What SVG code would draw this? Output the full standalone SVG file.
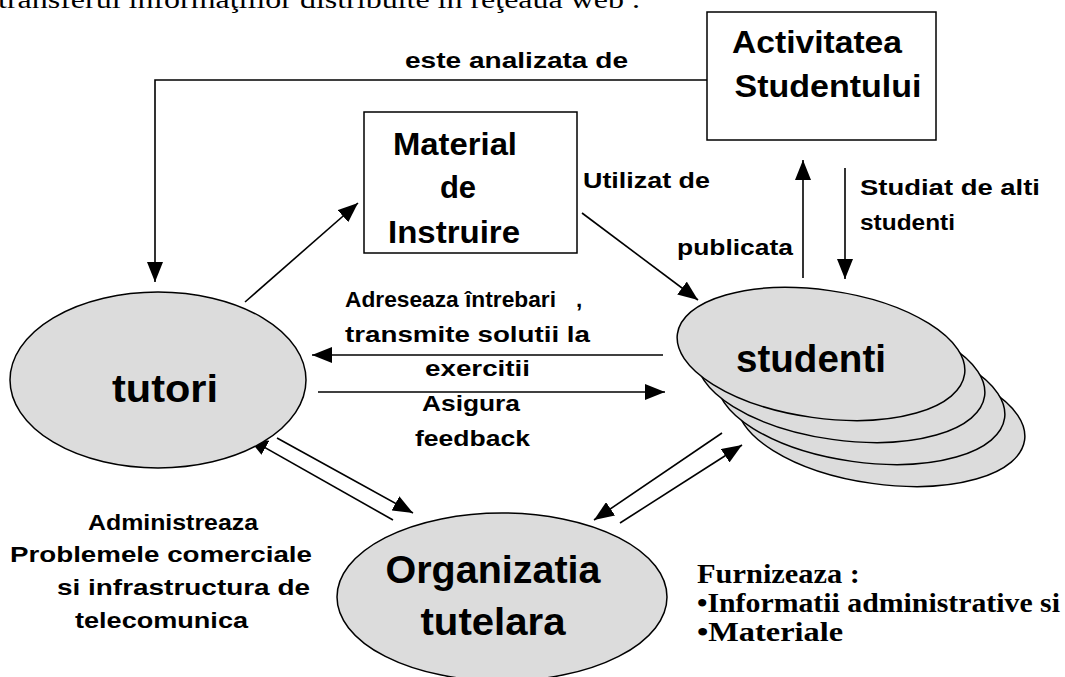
<svg xmlns="http://www.w3.org/2000/svg" width="1065" height="677" viewBox="0 0 1065 677">
<style>
.lbl{font-family:"Liberation Sans",Arial,sans-serif;font-weight:bold;font-size:22.5px;fill:#000}
.big{font-family:"Liberation Sans",Arial,sans-serif;font-weight:bold;font-size:31px;fill:#000;text-anchor:middle}
.node{font-family:"Liberation Sans",Arial,sans-serif;font-weight:bold;font-size:38px;fill:#000;text-anchor:middle}
.tm{font-family:"Liberation Serif","Times New Roman",serif;font-weight:bold;font-size:27px;fill:#000}
.box{fill:#fff;stroke:#000;stroke-width:1.5}
.ell{fill:#dcdcdc;stroke:#000;stroke-width:1.5}
.ln{fill:none;stroke:#000;stroke-width:1.6}
</style>
<defs>
<marker id="ahb" viewBox="0 0 20 16" refX="20" refY="8" markerWidth="20" markerHeight="16" markerUnits="userSpaceOnUse" orient="auto">
<path d="M0,0 L20,8 L0,16 z" fill="#000"/>
</marker>
</defs>
<rect width="1065" height="677" fill="#fff"/>
<text x="-2" y="8" font-family="'Liberation Serif','Times New Roman',serif" font-size="25" textLength="642" lengthAdjust="spacingAndGlyphs">transferul  informaţiilor distribuite în reţeaua web .</text>

<g id="connectors">
<polyline class="ln" points="707,80 155,80 155,282" marker-end="url(#ahb)"/>
<line class="ln" x1="245" y1="302" x2="358" y2="203" marker-end="url(#ahb)"/>
<line class="ln" x1="582" y1="213" x2="698" y2="300" marker-end="url(#ahb)"/>
<line class="ln" x1="803" y1="278" x2="803" y2="160" marker-end="url(#ahb)"/>
<line class="ln" x1="845" y1="168" x2="845" y2="279" marker-end="url(#ahb)"/>
<line class="ln" x1="663" y1="355" x2="312" y2="355" marker-end="url(#ahb)"/>
<line class="ln" x1="318" y1="392" x2="665" y2="392" marker-end="url(#ahb)"/>
<line class="ln" x1="277" y1="438" x2="413" y2="513" marker-end="url(#ahb)"/>
<line class="ln" x1="393" y1="520" x2="248" y2="438" marker-end="url(#ahb)"/>
<line class="ln" x1="722" y1="433" x2="594" y2="520" marker-end="url(#ahb)"/>
<line class="ln" x1="620" y1="523" x2="742" y2="445" marker-end="url(#ahb)"/>
</g>

<g id="labels">
<text class="lbl" x="405" y="68" textLength="223" lengthAdjust="spacingAndGlyphs">este  analizata de</text>
<text class="lbl" x="583" y="188" textLength="127" lengthAdjust="spacingAndGlyphs">Utilizat de</text>
<text class="lbl" x="677" y="255" textLength="116" lengthAdjust="spacingAndGlyphs">publicata</text>
<text class="lbl" x="860" y="195" textLength="180" lengthAdjust="spacingAndGlyphs">Studiat de  alti</text>
<text class="lbl" x="860" y="230" textLength="95" lengthAdjust="spacingAndGlyphs">studenti</text>
<text class="lbl" x="345" y="307" textLength="211" lengthAdjust="spacingAndGlyphs">Adreseaza întrebari</text>
<text class="lbl" x="576" y="307">,</text>
<text class="lbl" x="345" y="342" textLength="245" lengthAdjust="spacingAndGlyphs">transmite solutii la</text>
<text class="lbl" x="425" y="376" textLength="105" lengthAdjust="spacingAndGlyphs">exercitii</text>
<text class="lbl" x="422" y="411" textLength="98" lengthAdjust="spacingAndGlyphs">Asigura</text>
<text class="lbl" x="415" y="446" textLength="115" lengthAdjust="spacingAndGlyphs">feedback</text>
<text class="lbl" x="88" y="530" textLength="170" lengthAdjust="spacingAndGlyphs">Administreaza</text>
<text class="lbl" x="10" y="562" textLength="302" lengthAdjust="spacingAndGlyphs">Problemele   comerciale</text>
<text class="lbl" x="57" y="595" textLength="253" lengthAdjust="spacingAndGlyphs">si infrastructura de</text>
<text class="lbl" x="75" y="628" textLength="173" lengthAdjust="spacingAndGlyphs">telecomunica</text>
<text class="tm" x="697" y="583" textLength="163" lengthAdjust="spacingAndGlyphs">Furnizeaza :</text>
<text class="tm" x="697" y="612" textLength="363" lengthAdjust="spacingAndGlyphs">•Informatii administrative si</text>
<text class="tm" x="697" y="641" textLength="146" lengthAdjust="spacingAndGlyphs">•Materiale</text>
</g>

<g id="activitatea">
<rect class="box" x="707" y="12" width="229" height="128"/>
<text class="big" x="817" y="53" textLength="170" lengthAdjust="spacingAndGlyphs">Activitatea</text>
<text class="big" x="828" y="97" textLength="187" lengthAdjust="spacingAndGlyphs">Studentului</text>
</g>

<g id="material">
<rect class="box" x="364" y="112" width="213" height="141"/>
<text class="big" x="455" y="155" textLength="124" lengthAdjust="spacingAndGlyphs">Material</text>
<text class="big" x="458" y="198">de</text>
<text class="big" x="454" y="243" textLength="132" lengthAdjust="spacingAndGlyphs">Instruire</text>
</g>

<g id="tutori">
<ellipse class="ell" cx="158" cy="380" rx="148" ry="88"/>
<text class="node" x="165" y="402" textLength="106" lengthAdjust="spacingAndGlyphs">tutori</text>
</g>

<g id="studenti">
<ellipse class="ell" cx="881" cy="420" rx="145" ry="64" transform="rotate(8 881 420)"/>
<ellipse class="ell" cx="861" cy="398" rx="145" ry="64" transform="rotate(8 861 398)"/>
<ellipse class="ell" cx="841" cy="376" rx="145" ry="64" transform="rotate(8 841 376)"/>
<ellipse class="ell" cx="821" cy="354" rx="145" ry="64" transform="rotate(8 821 354)"/>
<text class="node" x="811" y="372" textLength="150" lengthAdjust="spacingAndGlyphs">studenti</text>
</g>

<g id="organizatia">
<ellipse class="ell" cx="502" cy="597" rx="165" ry="84"/>
<text class="node" x="493" y="583" textLength="215" lengthAdjust="spacingAndGlyphs">Organizatia</text>
<text class="node" x="493" y="635" textLength="145" lengthAdjust="spacingAndGlyphs">tutelara</text>
</g>
</svg>
